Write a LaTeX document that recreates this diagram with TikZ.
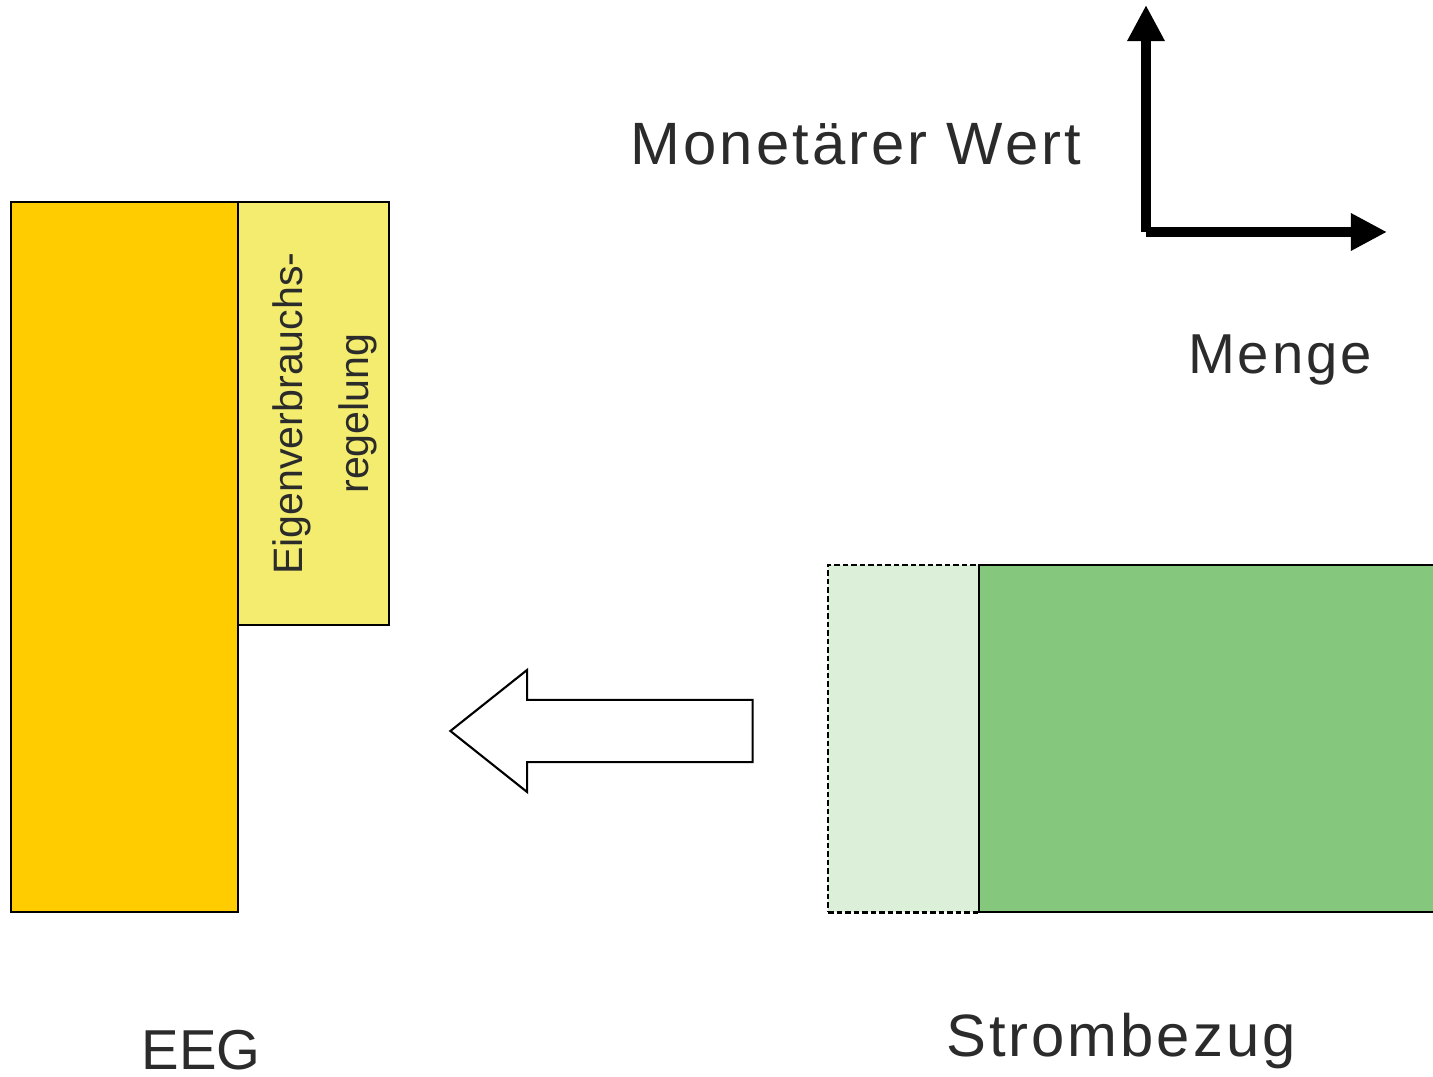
\documentclass[tikz,border=0pt]{standalone}
\usepackage{fontspec}
\setmainfont{Liberation Sans}
\newfontfamily\titelfont[LetterSpace=5]{Liberation Sans}
\usetikzlibrary{positioning,shapes.arrows,arrows.meta}

\definecolor{titelgrau}{HTML}{2B2B2B}
\definecolor{eeggelb}{HTML}{FFCC00}
\definecolor{regelgelb}{HTML}{F3EC6E}
\definecolor{stromgruen}{HTML}{85C77C}
\definecolor{verschiebgruen}{HTML}{DCEFD8}

\begin{document}
\begin{tikzpicture}[x=0.01cm, y=-0.01cm]
    \tikzset{
      block/.style = {draw, line width=0.6pt, inner sep=0pt,
      outer sep=0pt, anchor=north west},
      titel/.style = {font=\titelfont\fontsize{17}{20}\selectfont,
      text=titelgrau, inner sep=0pt, anchor=base},
      achse/.style = {line width=3.1pt,
      -{Triangle[length=0.36cm, width=0.35cm]}},
      pfeil/.style = {single arrow, draw, line width=0.6pt, fill=white,
      shape border rotate=180, minimum height=3.02cm, inner sep=0.3cm,
      single arrow head extend=0.3cm, single arrow tip angle=77,
      outer sep=0pt}
    }
    \clip (0,0) rectangle (1433,1077); % page size in px

    \node[block, fill=eeggelb, minimum width=2.27cm,
      minimum height=7.1cm] (eeg) at (11,202) {};
    \node[block, fill=regelgelb, minimum width=1.51cm,
      minimum height=4.23cm] (regel) at (eeg.north east) {};
    \node[rotate=90, align=center, text=titelgrau, inner sep=0pt,
      font=\fontsize{11.7}{18.8}\selectfont]
      (regeltext) at ([xshift=0.11cm]regel.center)
      {Eigenverbrauchs-\\regelung};

    \node[block, dashed, line width=0.8pt, dash pattern=on 0.55mm off 0.3mm,
      fill=verschiebgruen, minimum width=1.51cm,
      minimum height=3.47cm] (verschieb) at (828,565) {};
    \node[block, fill=stromgruen, minimum width=4.7cm,
      minimum height=3.47cm, right=0pt of verschieb] (strom) {};

    \node[pfeil] (pfeil) at (621,731) {};

    \coordinate (ursprung) at (1146,232);
    \coordinate (wertspitze) at (1146,5);
    \coordinate (mengespitze) at (1387,232);
    \draw[achse] (ursprung) -- (wertspitze);
    \draw[achse] (ursprung) -- (mengespitze);

    \node[titel] (wert) at (856,165) {Monetärer Wert};
    \node[titel, font=\titelfont\fontsize{16}{19}\selectfont]
      (menge) at (1280,374) {Menge};
    \node[titel, font=\fontsize{16}{19}\selectfont]
      (eegtext) at (201,1070) {EEG};
    \node[titel] (stromtext) at (1121,1057) {Strombezug};
  \end{tikzpicture}
\end{document}
